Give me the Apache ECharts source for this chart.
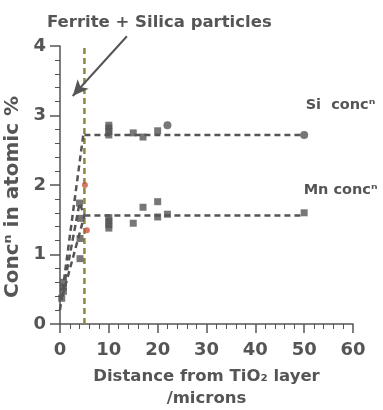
<!DOCTYPE html>
<html>
<head>
<meta charset="utf-8">
<script src="https://cdn.jsdelivr.net/npm/echarts@6/dist/echarts.min.js"></script>
<style>
  html, body { margin: 0; padding: 0; background: #fff; }
  #chart { width: 383px; height: 410px; }
</style>
</head>
<body>
<div id="chart"></div>
<script>
const xTicks = [0, 10, 20, 30, 40, 50, 60];
const yTicks = [0, 1, 2, 3, 4];

// plateau levels and rising lines near the oxide layer
const siPlateau = [[5, 2.72], [50, 2.72]];
const mnPlateau = [[5, 1.56], [50, 1.56]];
const riseSi = [[0.0, 0.2], [4.8, 2.74]];
const riseMid = [[0.3, 0.35], [4.0, 1.74], [5, 1.56]];
const riseMn = [[0.5, 0.4], [5, 1.56]];
const particleEdge = [[5, 0], [5, 4]];

// measured points
const siSquares = [[10, 2.72], [10, 2.77], [10, 2.82], [10, 2.86], [15, 2.75], [17, 2.69], [20, 2.78]];
const siCircles = [[22, 2.86], [50, 2.72]];
const mnSquares = [[10, 1.38], [10, 1.43], [10, 1.48], [10, 1.53], [15, 1.45], [17, 1.68], [20, 1.76], [20, 1.54], [22, 1.58], [50, 1.6]];
const nearSquares = [[4, 1.74], [4.2, 1.52], [4.1, 1.23], [4.1, 0.94], [0.7, 0.47], [0.7, 0.53], [0.7, 0.6], [0.35, 0.37]];
const nearCircles = [[5.1, 2.0], [5.5, 1.35]];

// annotation arrow (tail, head) and curve labels
const arrowFrom = [13.7, 4.14];
const arrowTo = [2.6, 3.28];
const siLabelAt = [50.2, 3.15];
const mnLabelAt = [49.8, 1.93];

const INK = "#555555";
const FONT = "DejaVu Sans";

const chart = echarts.init(document.getElementById("chart"));

const dashed = (data, color) => ({
  type: "line",
  data,
  symbol: "none",
  silent: true,
  lineStyle: { color: color || INK, width: 2.5, type: [6, 4] },
  z: 2
});

chart.setOption({
  animation: false,
  textStyle: { fontFamily: FONT, color: INK },
  title: {
    text: "Ferrite + Silica particles",
    left: 42,
    top: 9,
    textStyle: { fontFamily: FONT, fontSize: 16.5, fontWeight: "bold", color: INK }
  },
  grid: { left: 60, right: 30, top: 46, bottom: 86, outerBoundsMode: "none" },
  xAxis: {
    type: "value",
    min: 0,
    max: 60,
    interval: 10,
    name: "Distance from TiO\u2082 layer\n/microns",
    nameLocation: "middle",
    nameGap: 42,
    nameTextStyle: { fontSize: 16.5, fontWeight: "bold", color: INK, lineHeight: 22 },
    axisLine: { show: true, lineStyle: { color: INK, width: 1.5 } },
    axisTick: { show: true, length: 9, lineStyle: { color: INK, width: 1.5 } },
    minorTick: { show: true, splitNumber: 5, length: 5, lineStyle: { color: INK, width: 1 } },
    axisLabel: { fontSize: 18, fontWeight: "bold", color: INK, margin: 17, formatter: (v) => (xTicks.includes(v) ? String(v) : "") },
    splitLine: { show: false }
  },
  yAxis: {
    type: "value",
    min: 0,
    max: 4,
    interval: 1,
    name: "Conc\u207F in atomic %",
    nameLocation: "middle",
    nameGap: 26,
    nameTextStyle: { fontSize: 20, fontWeight: "bold", color: INK, padding: [0, 24, 0, 0] },
    axisLine: { show: true, lineStyle: { color: INK, width: 1.5 } },
    axisTick: { show: true, length: 10, lineStyle: { color: INK, width: 1.5 } },
    minorTick: { show: true, splitNumber: 5, length: 5, lineStyle: { color: INK, width: 1 } },
    axisLabel: { fontSize: 18, fontWeight: "bold", color: INK, margin: 14, formatter: (v) => (yTicks.includes(v) ? String(v) : "") },
    splitLine: { show: false }
  },
  series: [
    dashed(particleEdge, "#8c8440"),
    dashed(siPlateau),
    dashed(mnPlateau),
    dashed(riseSi),
    dashed(riseMid),
    dashed(riseMn),
    {
      // pointer to the particle boundary
      type: "line",
      clip: false,
      silent: true,
      symbol: "none",
      data: [arrowFrom, { value: arrowTo, symbol: "arrow", symbolSize: [11, 16], symbolRotate: 139 }],
      lineStyle: { color: INK, width: 2 },
      itemStyle: { color: INK },
      z: 4
    },
    {
      type: "scatter",
      data: siSquares.concat(mnSquares, nearSquares),
      symbol: "rect",
      symbolSize: 7,
      itemStyle: { color: INK },
      z: 3
    },
    {
      type: "scatter",
      data: siCircles,
      symbol: "circle",
      symbolSize: 8,
      itemStyle: { color: INK },
      z: 3
    },
    {
      type: "scatter",
      data: nearCircles,
      symbol: "circle",
      symbolSize: 6,
      itemStyle: { color: "#c8553d" },
      z: 3
    },
    {
      type: "scatter",
      data: [],
      markPoint: {
        silent: true,
        symbol: "circle",
        symbolSize: 1,
        itemStyle: { color: "rgba(0,0,0,0)" },
        label: { show: true, position: "right", distance: 0, fontSize: 14.5, fontWeight: "bold", color: INK, fontFamily: FONT },
        data: [
          { coord: siLabelAt, value: "Si conc\u207F", label: { formatter: "Si  conc\u207F" } },
          { coord: mnLabelAt, value: "Mn conc\u207F", label: { formatter: "Mn conc\u207F" } }
        ]
      }
    }
  ]
});
</script>
</body>
</html>
